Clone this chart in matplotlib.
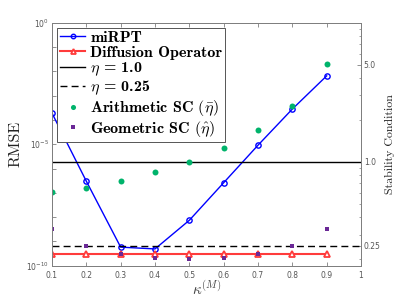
import matplotlib
matplotlib.use("Agg")
import matplotlib.pyplot as plt
import numpy as np
from matplotlib.ticker import LogLocator, FixedLocator, NullFormatter, FixedFormatter

plt.rcParams['mathtext.fontset'] = 'cm'
plt.rcParams['axes.unicode_minus'] = False

kappa = [0.1, 0.2, 0.3, 0.4, 0.5, 0.6, 0.7, 0.8, 0.9]
mirpt = [1.9e-4, 3.0e-7, 5.8e-10, 4.9e-10, 7.4e-9, 2.6e-7, 9.1e-6, 2.8e-4, 6.5e-3]
diffusion = [3.0e-10] * 9
arith_sc = [0.605, 0.647, 0.73, 0.843, 1.0, 1.255, 1.68, 2.5, 5.05]
geom_sc = [0.331, 0.249, 0.217, 0.203, 0.200, 0.203, 0.217, 0.249, 0.331]
eta_lines = [1.0, 0.25]
xticks = [0.1, 0.2, 0.3, 0.4, 0.5, 0.6, 0.7, 0.8, 0.9, 1.0]
xticklabels = ['0.1', '0.2', '0.3', '0.4', '0.5', '0.6', '0.7', '0.8', '0.9', '1']
yticks_right = [0.25, 1.0, 5.0]
yticklabels_right = ['0.25', '1.0', '5.0']

fig = plt.figure(figsize=(3.99, 2.99), dpi=100)
ax = fig.add_axes([0.1303, 0.1114, 0.7745, 0.8126])
ax2 = ax.twinx()

gray = '#7f7f7f'
tcol = '#555555'

l1, = ax.plot(kappa, mirpt, '-o', color='#0000ff', lw=1.0, ms=3.8, mfc='none', mew=1.0, label='miRPT', zorder=3)
l2, = ax.plot(kappa, diffusion, '-^', color='#ff3b3b', lw=1.5, ms=4.2, mfc='white', mew=1.3, label='Diffusion Operator', zorder=3)
ax.set_yscale('log')
ax.set_ylim(1e-10, 1e0)
ax.set_xlim(0.1, 1.0)

l3 = ax2.axhline(eta_lines[0], color='black', lw=1.0, ls='-', label=r'$\eta$ = 1.0')
l4 = ax2.axhline(eta_lines[1], color='black', lw=1.0, ls=(0, (5, 3)), label=r'$\eta$ = 0.25')
l5, = ax2.plot(kappa, arith_sc, 'o', color='#00b36b', ms=4.3, mew=0, label=r'Arithmetic SC $(\bar{\eta})$')
l6, = ax2.plot(kappa, geom_sc, 's', color='#6a2896', ms=3.3, mew=0, label=r'Geometric SC $(\hat{\eta})$')
ax2.set_yscale('log')
ax2.set_ylim(0.179, 10.0)

# ticks
ax.xaxis.set_major_locator(FixedLocator(xticks))
ax.xaxis.set_major_formatter(FixedFormatter(xticklabels))
ax.yaxis.set_major_locator(FixedLocator([10.0**k for k in range(-10, 1)]))
ax.yaxis.set_minor_locator(FixedLocator([]))
lbl = {0: r'$\mathdefault{10^{0}}$', -5: r'$\mathdefault{10^{-5}}$', -10: r'$\mathdefault{10^{-10}}$'}
ax.set_yticklabels([lbl.get(k, '') for k in range(-10, 1)])
ax.tick_params(axis='both', which='major', direction='in', length=3, width=0.6,
               color=gray, labelcolor=tcol, labelsize=5.5, top=True, right=False)
ax.tick_params(axis='x', pad=4)
ax.tick_params(axis='y', pad=2)
ax2.yaxis.set_major_locator(FixedLocator(yticks_right))
ax2.yaxis.set_major_formatter(FixedFormatter(yticklabels_right))
ax2.yaxis.set_minor_locator(LogLocator(base=10, subs=np.arange(1, 10)))
ax2.yaxis.set_minor_formatter(NullFormatter())
ax2.tick_params(axis='y', which='major', direction='in', length=3, width=0.6,
                color=gray, labelcolor=tcol, labelsize=5.5, pad=2)
ax2.tick_params(axis='y', which='minor', direction='in', length=1.6, width=0.5, color=gray)
for a in (ax, ax2):
    for s in a.spines.values():
        s.set_color(gray)
        s.set_linewidth(0.7)

ax.set_ylabel('RMSE', family='cmr10', fontsize=11.5, labelpad=3, color='#222222')
ax2.set_ylabel('Stability Condition', family='cmr10', fontsize=8.6, labelpad=3, color='#222222')
ax.set_xlabel(r'$\kappa^{(M)}$', fontsize=11, labelpad=0, color='#444444')

leg = ax2.legend(handles=[l1, l2, l3, l4, l5, l6], loc='upper left',
                 bbox_to_anchor=(0.015, 0.98), prop={'family': 'cmb10', 'size': 11.5},
                 handlelength=1.6, handletextpad=0.3, labelspacing=0.05,
                 borderpad=0.2, borderaxespad=0, fancybox=False, framealpha=1,
                 edgecolor='#555555', markerscale=0.85)
leg.get_frame().set_linewidth(0.7)

fig.savefig('out.png', dpi=100)
